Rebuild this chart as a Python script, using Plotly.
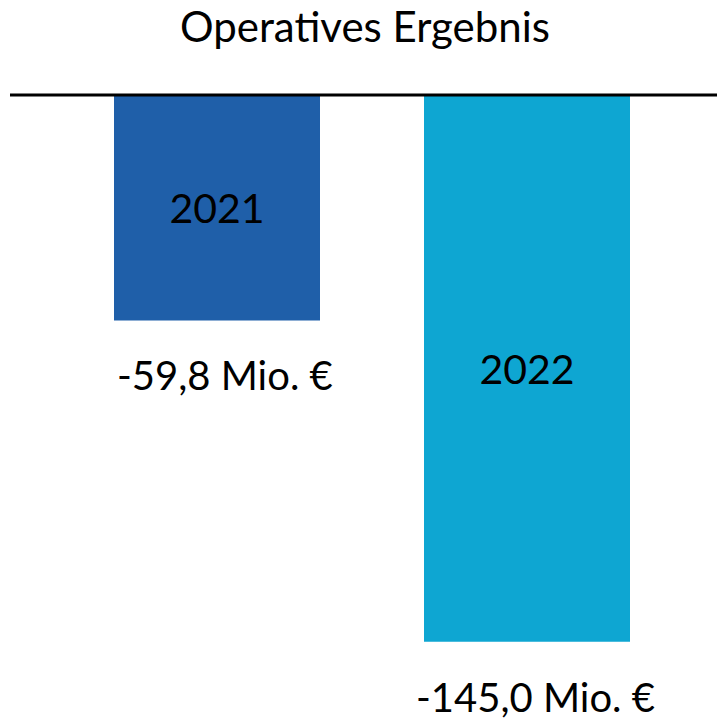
import plotly.graph_objects as go

years = ["2021", "2022"]
values = [-59.8, -145.0]
value_labels = ["-59,8 Mio. €", "-145,0 Mio. €"]
colors = ["#1F5FA9", "#0EA6D2"]
title_text = "Operatives Ergebnis"

FONT = "Lato"
FS = 41
W, H = 717, 721
px_per_unit = 3.77
top_px = 95
x_pos = [0, 1]
spacing_px = 310
center0_px = 217

fig = go.Figure()
fig.add_trace(go.Bar(
    x=x_pos, y=values, width=206 / spacing_px,
    marker=dict(color=colors, line=dict(width=0)),
    text=years, textposition="inside", insidetextanchor="middle",
    textangle=0,
    textfont=dict(family=FONT, size=FS, color="black"),
    hoverinfo="skip",
))

for xi, v, lab in zip(x_pos, values, value_labels):
    fig.add_annotation(
        x=xi, y=v, text=lab, showarrow=False, borderpad=0,
        xanchor="center", yanchor="top", yshift=-30, xshift=8,
        font=dict(family=FONT, size=40, color="black"),
    )

fig.add_annotation(
    x=365 / W, y=1 - 26 / H, xref="paper", yref="paper",
    text=title_text, showarrow=False, xanchor="center", yanchor="middle",
    font=dict(family=FONT, size=42, color="black"),
)

fig.add_shape(type="line", xref="paper", yref="y", x0=10 / W, x1=1, y0=0, y1=0,
              line=dict(color="black", width=3))

y_top = top_px / px_per_unit
y_bot = -(H - top_px) / px_per_unit
fig.update_layout(
    width=W, height=H,
    margin=dict(l=0, r=0, t=0, b=0),
    paper_bgcolor="white", plot_bgcolor="white",
    showlegend=False,
    xaxis=dict(range=[-center0_px / spacing_px, (W - center0_px) / spacing_px],
               visible=False, fixedrange=True),
    yaxis=dict(range=[y_bot, y_top], visible=False, fixedrange=True),
)
fig.write_html("out.html", config={"displayModeBar": False},
               post_script="document.body.style.margin='0';document.body.style.overflow='hidden';")
